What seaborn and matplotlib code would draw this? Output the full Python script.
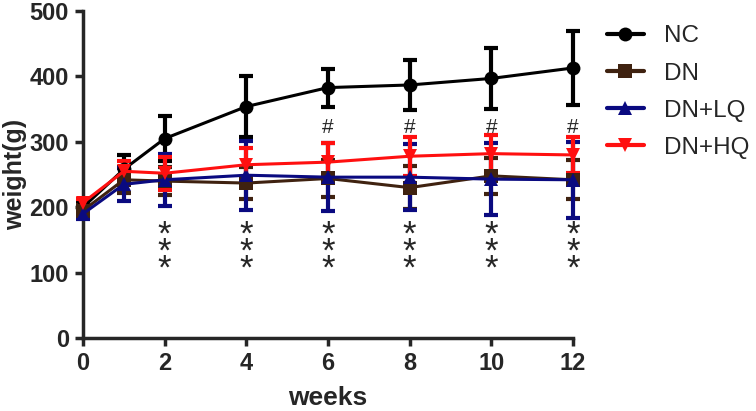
import pandas as pd
import matplotlib
matplotlib.use("Agg")
import matplotlib.pyplot as plt
import seaborn as sns

# data (mean and SD of body weight)
weeks = [0, 1, 2, 4, 6, 8, 10, 12]
groups = ["NC", "DN", "DN+LQ", "DN+HQ"]
nc_mean = [200, 258, 305, 354, 383, 387, 397, 413]
nc_sd = [8, 22, 35, 46, 29, 38, 47, 56]
dn_mean = [195, 242, 240, 237, 244, 230, 248, 242]
dn_sd = [8, 20, 22, 24, 28, 33, 28, 30]
lq_mean = [190, 235, 242, 249, 246, 246, 243, 242]
lq_sd = [8, 25, 40, 53, 52, 50, 55, 58]
hq_mean = [207, 255, 252, 265, 269, 278, 282, 280]
hq_sd = [5, 15, 25, 25, 29, 30, 28, 27]
star_weeks = [2, 4, 6, 8, 10, 12]
hash_weeks = [6, 8, 10, 12]

means = [nc_mean, dn_mean, lq_mean, hq_mean]
sds = [nc_sd, dn_sd, lq_sd, hq_sd]
colors = {"NC": "#000000", "DN": "#3f2210", "DN+LQ": "#0a0a80", "DN+HQ": "#ff1010"}
markers = {"NC": "o", "DN": "s", "DN+LQ": "^", "DN+HQ": "v"}

rows = []
for g, m, s in zip(groups, means, sds):
    for w, mv, sv in zip(weeks, m, s):
        rows.append({"week": w, "weight": mv, "sd": sv, "group": g})
df = pd.DataFrame(rows)

sns.set_style("ticks")
plt.rcParams["font.family"] = ["Liberation Sans", "DejaVu Sans"]

fig = plt.figure(figsize=(7.56, 4.11), dpi=100)
ax = fig.add_axes([0.1098, 0.1776, 0.648, 0.7954])

for g in groups:
    d = df[df["group"] == g]
    ax.errorbar(d["week"], d["weight"], yerr=d["sd"], fmt="none",
                ecolor=colors[g], elinewidth=3, capsize=5, capthick=3,
                clip_on=False, zorder=2)

sns.lineplot(data=df, x="week", y="weight", hue="group", style="group",
             markers=markers, dashes=False, palette=colors, hue_order=groups,
             style_order=groups, markersize=10, markeredgewidth=0,
             linewidth=2.2, ax=ax, clip_on=False, zorder=3)

for w in star_weeks:
    ax.text(w, 131, "*\n*\n*", ha="center", va="center", fontsize=25,
            linespacing=0.38)
for w in hash_weeks:
    ax.text(w, 322, "#", ha="center", va="center", fontsize=15)

ax.set_xlim(0, 12)
ax.set_ylim(0, 500)
ax.set_xticks([0, 2, 4, 6, 8, 10, 12])
ax.set_yticks([0, 100, 200, 300, 400, 500])
ax.set_xlabel("weeks", fontsize=19, fontweight="bold", labelpad=8)
ax.set_ylabel("weight(g)", fontsize=18, fontweight="bold", labelpad=2)
for lab in ax.get_xticklabels() + ax.get_yticklabels():
    lab.set_fontweight("bold")
ax.tick_params(labelsize=17, width=2.5, length=6, pad=4)
for side in ["left", "bottom"]:
    ax.spines[side].set_linewidth(2.5)
sns.despine(ax=ax)

leg = ax.legend(loc="upper left", bbox_to_anchor=(0.803, 0.938),
                bbox_transform=fig.transFigure, frameon=False, fontsize=17.5,
                handlelength=1.5, labelspacing=0.62, handletextpad=0.85,
                borderpad=0, borderaxespad=0)
for h in leg.legend_handles:
    h.set_markersize(10)
    h.set_linewidth(3)

fig.savefig("out.png", dpi=100)
